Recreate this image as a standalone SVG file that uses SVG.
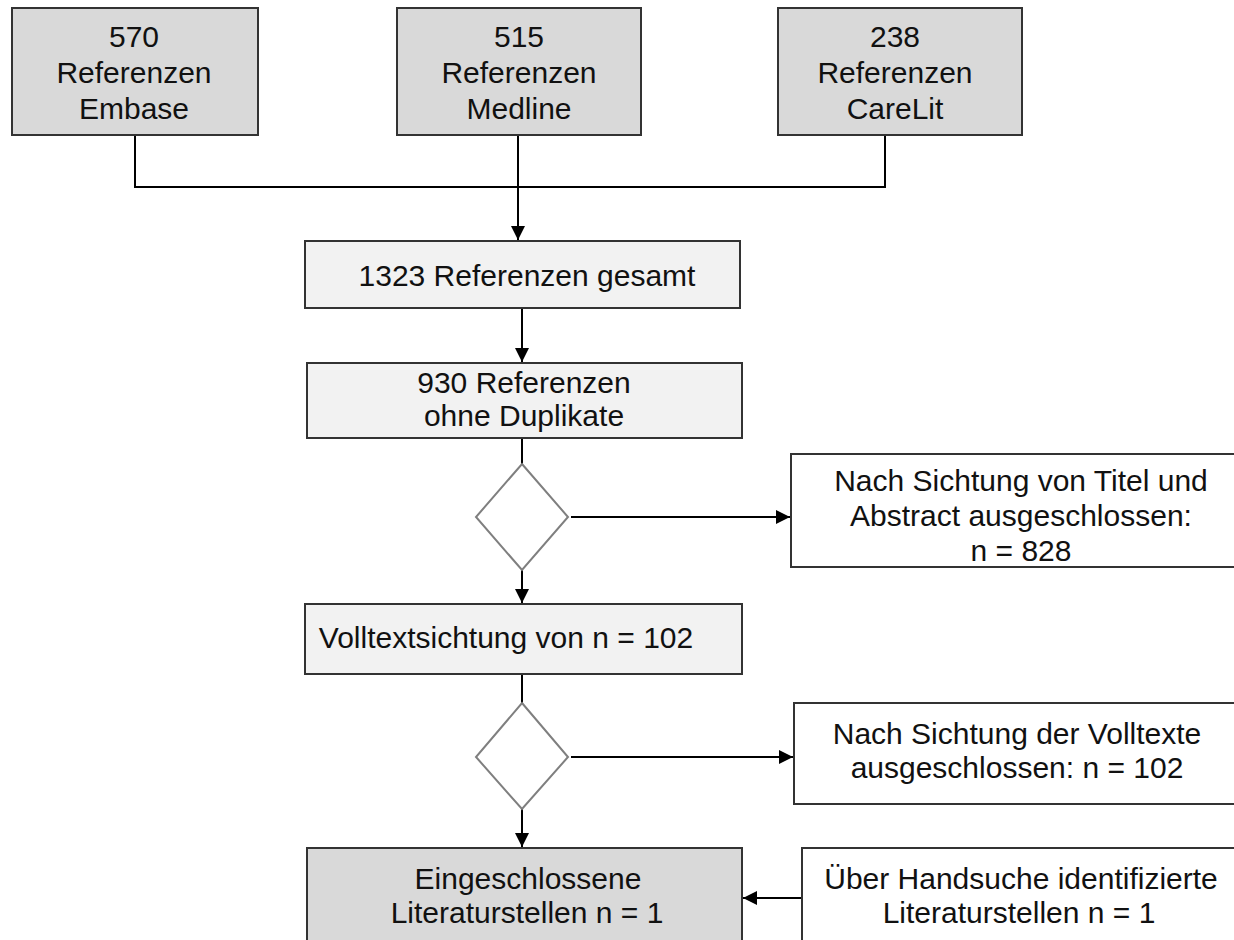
<svg xmlns="http://www.w3.org/2000/svg" width="1234" height="940" viewBox="0 0 1234 940">
<defs>
<marker id="arr" markerUnits="userSpaceOnUse" markerWidth="16" markerHeight="14" refX="14" refY="7" orient="auto">
<path d="M0,0 L14,7 L0,14 Z" fill="#000"/>
</marker>
</defs>
<style>
.box{stroke:#333;stroke-width:2}
.dark{fill:#d9d9d9}
.light{fill:#f2f2f2}
.white{fill:#fff}
.dia{fill:#fff;stroke:#7f7f7f;stroke-width:2}
.t{font-family:"Liberation Sans",Arial,sans-serif;font-size:30px;fill:#111;text-anchor:middle}
.c{fill:none;stroke:#000;stroke-width:2}
</style>
<rect width="1234" height="940" fill="#fff"/>
<g id="connectors">
<path class="c" d="M135,135 V187 H885 V135"/>
<path class="c" d="M518,135 V240" marker-end="url(#arr)"/>
<path class="c" d="M522,308 V362" marker-end="url(#arr)"/>
<path class="c" d="M522,438 V464"/>
<path class="c" d="M522,570 V603" marker-end="url(#arr)"/>
<path class="c" d="M571,517 H790" marker-end="url(#arr)"/>
<path class="c" d="M522,674 V703"/>
<path class="c" d="M522,809 V847" marker-end="url(#arr)"/>
<path class="c" d="M571,757 H793" marker-end="url(#arr)"/>
<path class="c" d="M802,898 H743" marker-end="url(#arr)"/>
</g>
<g id="embase">
<rect class="box dark" x="12" y="8" width="246" height="127"/>
<text class="t" x="134" y="47">570</text>
<text class="t" x="134" y="83">Referenzen</text>
<text class="t" x="134" y="119">Embase</text>
</g>
<g id="medline">
<rect class="box dark" x="397" y="8" width="244" height="127"/>
<text class="t" x="519" y="47">515</text>
<text class="t" x="519" y="83">Referenzen</text>
<text class="t" x="519" y="119">Medline</text>
</g>
<g id="carelit">
<rect class="box dark" x="778" y="8" width="244" height="127"/>
<text class="t" x="895" y="47">238</text>
<text class="t" x="895" y="83">Referenzen</text>
<text class="t" x="895" y="119">CareLit</text>
</g>
<g id="gesamt">
<rect class="box light" x="305" y="241" width="435" height="67"/>
<text class="t" x="527" y="286">1323 Referenzen gesamt</text>
</g>
<g id="ohne-duplikate">
<rect class="box light" x="307" y="363" width="435" height="75"/>
<text class="t" x="524" y="393">930 Referenzen</text>
<text class="t" x="524" y="426">ohne Duplikate</text>
</g>
<g id="decision1">
<polygon class="dia" points="522,464 568,517 522,570 476,517"/>
</g>
<g id="excluded-abstract">
<rect class="box white" x="791" y="454" width="470" height="113"/>
<text class="t" x="1021" y="491">Nach Sichtung von Titel und</text>
<text class="t" x="1021" y="526">Abstract ausgeschlossen:</text>
<text class="t" x="1021" y="561">n = 828</text>
</g>
<g id="volltext">
<rect class="box light" x="305" y="604" width="437" height="70"/>
<text class="t" x="506" y="648">Volltextsichtung von n = 102</text>
</g>
<g id="decision2">
<polygon class="dia" points="522,703 568,757 522,809 476,757"/>
</g>
<g id="excluded-fulltext">
<rect class="box white" x="794" y="703" width="470" height="101"/>
<text class="t" x="1017" y="744">Nach Sichtung der Volltexte</text>
<text class="t" x="1017" y="778">ausgeschlossen: n = 102</text>
</g>
<g id="included">
<rect class="box dark" x="307" y="848" width="435" height="110"/>
<text class="t" x="528" y="889">Eingeschlossene</text>
<text class="t" x="527" y="923">Literaturstellen n = 1</text>
</g>
<g id="handsuche">
<rect class="box white" x="802" y="848" width="460" height="110"/>
<text class="t" x="1021" y="889">Über Handsuche identifizierte</text>
<text class="t" x="1019" y="923">Literaturstellen n = 1</text>
</g>
</svg>
